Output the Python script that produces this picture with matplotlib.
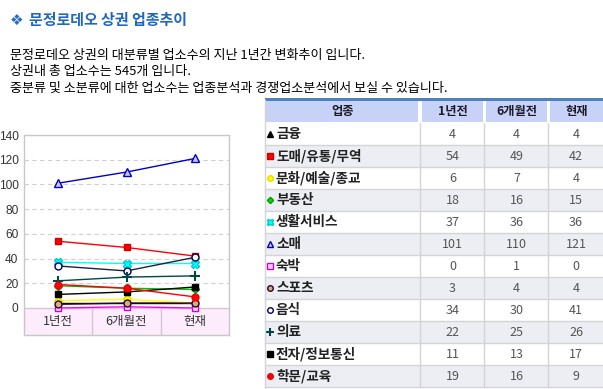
import matplotlib
matplotlib.use('Agg')
import matplotlib.pyplot as plt
import matplotlib.patches as patches

plt.rcParams['font.family'] = ['Noto Sans CJK KR', 'DejaVu Sans']

# data
periods = ['1년전', '6개월전', '현재']
industries = ['금융', '도매/유통/무역', '문화/예술/종교', '부동산', '생활서비스', '소매',
              '숙박', '스포츠', '음식', '의료', '전자/정보통신', '학문/교육']
year_ago = [4, 54, 6, 18, 37, 101, 0, 3, 34, 22, 11, 19]
six_months_ago = [4, 49, 7, 16, 36, 110, 1, 4, 30, 25, 13, 16]
current = [4, 42, 4, 15, 36, 121, 0, 4, 41, 26, 17, 9]
y_ticks = [0, 20, 40, 60, 80, 100, 120, 140]

title = '문정로데오 상권 업종추이'
intro_lines = ['문정로데오 상권의 대분류별 업소수의 지난 1년간 변화추이 입니다.',
               '상권내 총 업소수는 545개 입니다.',
               '중분류 및 소분류에 대한 업소수는 업종분석과 경쟁업소분석에서 보실 수 있습니다.']
table_header = ['업종', '1년전', '6개월전', '현재']

# styles: (line colour, marker, marker face, marker edge, marker size)
styles = [
    ('#000000', '^', '#000000', '#000000', 5),
    ('#ff0000', 's', '#ff0000', '#cc0000', 5),
    ('#ffff00', 'o', '#ffff00', '#e0e000', 5),
    ('#00c000', 'D', '#00dd00', '#00a000', 4),
    ('#00ffff', 'X', '#00ffff', '#00cccc', 6),
    ('#0000cc', '^', '#c8c8ff', '#0000cc', 6),
    ('#ff00ff', 's', '#ffd8ff', '#d000d0', 5),
    ('#300030', 'o', '#d0b080', '#300030', 5),
    ('#202040', 'o', '#ffffff', '#000060', 5),
    ('#004848', '+', '#004848', '#004848', 7),
    ('#000000', 's', '#000000', '#000000', 5),
    ('#ff0000', 'o', '#ff0000', '#ee0000', 5),
]

W, H = 603, 389
fig = plt.figure(figsize=(W / 100, H / 100), dpi=100)

# overlay in pixel coordinates for text and table
page = fig.add_axes([0, 0, 1, 1], zorder=0)
page.set_xlim(0, W)
page.set_ylim(H, 0)
page.axis('off')

page.text(10, 20, '❖', color='#2a6cc0', fontsize=11, family=['DejaVu Sans'], va='center', ha='left')
page.text(29, 20, title, color='#1f66c1', fontsize=10.8, fontweight='bold', va='center', ha='left')
for i, line in enumerate(intro_lines):
    page.text(10, 55 + i * 16.5, line, color='#000000', fontsize=9.4, va='center', ha='left')

# table
col_edges = [265, 421, 485, 549, 612]
head_top, head_bot = 100, 123
row_h = 22
page.add_patch(patches.Rectangle((265, 97.5), W - 265, 3, color='#4f80c2', lw=0))
for c in range(4):
    x0, x1 = col_edges[c], col_edges[c + 1]
    page.add_patch(patches.Rectangle((x0 + (0 if c == 0 else 1), head_top + 1), x1 - x0 - 3, head_bot - head_top - 2,
                                     color='#c8d2f6', lw=0))
    page.text((x0 + x1) / 2 - (0 if c < 3 else 4), (head_top + head_bot) / 2, table_header[c],
              fontsize=8.8, fontweight='bold', color='#1a1a2a', ha='center', va='center')

for r, name in enumerate(industries):
    y0 = head_bot + r * row_h
    yc = y0 + row_h / 2
    if r % 2 == 1:
        page.add_patch(patches.Rectangle((265, y0), W - 265, row_h, color='#eceef3', lw=0))
    page.plot([265, W], [y0 + row_h, y0 + row_h], color='#d4d4d8', lw=1)
    col, mk, mfc, mec, ms = styles[r]
    page.plot([270], [yc], marker=mk, mfc=mfc, mec=mec, ms=ms * 0.8, ls='none',
              mew=1.5 if mk == '+' else 1)
    page.text(276, yc, name, fontsize=9.8, fontweight='bold', color='#222222', ha='left', va='center')
    for c, vals in enumerate([year_ago, six_months_ago, current]):
        x0, x1 = col_edges[c + 1], col_edges[c + 2]
        page.text((x0 + x1) / 2 - (0 if c < 2 else 4) - 0.5, yc, str(vals[r]), fontsize=9, color='#555555',
                  ha='center', va='center')
for x in col_edges[1:4]:
    page.plot([x - 1, x - 1], [head_bot, head_bot + row_h * len(industries)], color='#d4d4d8', lw=1)
page.plot([265, 265], [head_top, H], color='#d4d4d8', lw=1)

# chart axes
ax_l, ax_r, ax_t, ax_b = 24, 229, 135, 335
zero_y = 308
ppu = (zero_y - ax_t) / 140
ymin = -(ax_b - zero_y) / ppu
ax = fig.add_axes([ax_l / W, (H - ax_b) / H, (ax_r - ax_l) / W, (ax_b - ax_t) / H], zorder=1)
ax.set_xlim(-0.5, 2.5)
ax.set_ylim(ymin, 140)
ax.set_facecolor('white')
for s in ax.spines.values():
    s.set_color('#c8c8c8')
    s.set_linewidth(1)

for t in y_ticks[1:-1]:
    ax.axhline(t, color='#d0d0d0', lw=0.8, ls=(0, (4, 3)), zorder=1)
ax.axhspan(ymin, 0, color='#fcecfc', lw=0, zorder=1)
ax.axhline(0, color='#d8c4d8', lw=1, zorder=1)
ax.vlines([0.5, 1.5], ymin, 0, color='#d8c4d8', lw=1, zorder=1)

xs = range(len(periods))
for r in range(len(industries)):
    col, mk, mfc, mec, ms = styles[r]
    vals = [year_ago[r], six_months_ago[r], current[r]]
    ax.plot(xs, vals, color=col, lw=1, marker=mk, mfc=mfc, mec=mec, ms=ms,
            mew=1.5 if mk == '+' else 1, zorder=3)

for i, p in enumerate(periods):
    ax.text(i, ymin / 2, p, fontsize=9, color='#333333', ha='center', va='center')

ax.set_yticks(y_ticks)
ax.set_yticklabels([str(t) for t in y_ticks], fontsize=8.6, color='#333333', family=['Liberation Sans'])
ax.tick_params(axis='y', length=0, pad=4)
ax.set_xticks([])

fig.savefig('out.png', dpi=100)
